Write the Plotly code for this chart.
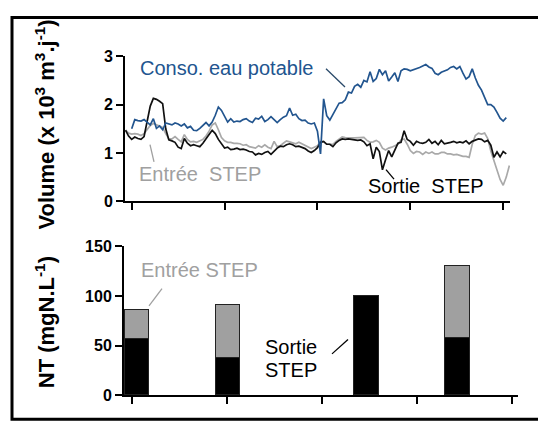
import plotly.graph_objects as go

# days of the campaign, ticks every 30 days
days = list(range(-2, 123))

conso = [None, None,
    1.50, 1.69, 1.67, 1.66, 1.69, 1.63, 1.58, 1.71, 1.51, 1.56,
    1.48, 1.62, 1.60, 1.58, 1.62, 1.60, 1.56, 1.60, 1.52, 1.55,
    1.47, 1.46, 1.51, 1.58, 1.63, 1.56, 1.64, 1.78, 1.95, 1.88,
    1.75, 1.64, 1.71, 1.64, 1.66, 1.65, 1.69, 1.71, 1.66, 1.63,
    1.72, 1.70, 1.76, 1.65, 1.69, 1.75, 1.69, 1.63, 1.69, 1.74,
    1.77, 1.93, 1.78, 1.80, 1.71, 1.67, 1.68, 1.62, 1.60, 1.62,
    1.45, 0.98, 2.12, 1.77, 1.68, 1.80, 1.91, 2.03, 2.04, 2.10,
    2.26, 2.24, 2.38, 2.42, 2.36, 2.50, 2.47, 2.68, 2.48, 2.54,
    2.73, 2.62, 2.70, 2.49, 2.57, 2.66, 2.48, 2.70, 2.74, 2.73,
    2.70, 2.72, 2.75, 2.77, 2.80, 2.83, 2.78, 2.75, 2.65, 2.62,
    2.67, 2.70, 2.72, 2.77, 2.79, 2.74, 2.79, 2.65, 2.53, 2.58,
    2.74, 2.55, 2.40, 2.30, 2.15, 2.00, 2.00, 1.95, 1.84, 1.72,
    1.66, 1.73, None]

sortie = [1.47, 1.35,
    1.28, 1.33, 1.30, 1.28, 1.34, 1.64, 1.97, 2.13, 2.11, 2.07,
    2.02, 1.50, 1.27, 1.25, 1.22, 1.12, 1.09, 1.30, 1.20, 1.15,
    1.17, 1.15, 1.13, 1.20, 1.30, 1.38, 1.47, 1.40, 1.28, 1.19,
    1.10, 1.12, 1.07, 1.08, 1.10, 1.07, 1.08, 1.06, 1.03, 1.02,
    0.96, 0.99, 0.97, 1.01, 1.03, 0.97, 1.04, 1.10, 1.14, 1.13,
    1.17, 1.19, 1.17, 1.13, 1.14, 1.12, 1.09, 1.04, 1.01, 1.05,
    1.11, 1.22, 1.24, 1.18, 1.18, 1.13, 1.21, 1.26, 1.29, 1.28,
    1.29, 1.28, 1.27, 1.26, 1.27, 1.23, 1.15, 1.19, 0.88, 1.12,
    1.03, 0.65, 0.86, 1.05, 0.92, 1.07, 1.20, 1.22, 1.46, 1.28,
    1.24, 1.16, 1.24, 1.21, 1.20, 1.22, 1.28, 1.20, 1.24, 1.17,
    1.26, 1.19, 1.20, 1.22, 1.24, 1.21, 1.23, 1.21, 1.25, 1.19,
    1.24, 1.27, 1.29, 1.28, 1.23, 1.26, 1.16, 0.91, 1.02, 0.92,
    1.03, 0.98, None]

entree = [1.47, 1.41,
    1.39, 1.40, 1.39, 1.36, 1.40, 1.48, 1.57, 1.61, 1.58, 1.55,
    1.53, 1.40, 1.29, 1.29, 1.34, 1.28, 1.23, 1.38, 1.28, 1.23,
    1.24, 1.22, 1.25, 1.28, 1.35, 1.45, 1.58, 1.62, 1.48, 1.32,
    1.25, 1.22, 1.22, 1.20, 1.20, 1.19, 1.16, 1.17, 1.13, 1.11,
    1.10, 1.15, 1.12, 1.17, 1.12, 1.09, 1.24, 1.13, 1.15, 1.20,
    1.25, 1.23, 1.21, 1.19, 1.22, 1.19, 1.15, 1.12, 1.09, 1.12,
    1.15, 1.24, 1.23, 1.18, 1.18, 1.18, 1.24, 1.28, 1.33, 1.32,
    1.31, 1.31, 1.31, 1.31, 1.32, 1.32, 1.26, 1.22, 1.23, 1.26,
    1.22, 1.10, 1.06, 1.10, 1.12, 1.15, 1.18, 1.27, 1.29, 1.18,
    1.05, 0.99, 1.03, 1.02, 0.97, 1.02, 0.99, 1.02, 0.98, 0.98,
    1.01, 1.01, 0.98, 0.98, 0.96, 0.97, 0.95, 0.93, 0.93, 0.91,
    1.18, 1.36, 1.41, 1.39, 1.41, 1.30, 1.04, 0.84, 0.66, 0.45,
    0.33, 0.50, 0.74]

# NT concentrations (bar charts)
nt_days = [1.7, 30.4, 74.1, 102.9]
nt_sortie = [56, 37, 100, 57]
nt_entree_extra = [29, 54, None, 72.5]

# the page body adds an 8px margin, so the figure is shifted by that much
OFF = 8
W, H = 546 - OFF, 432 - OFF


def px(x, y):
    return (x - OFF) / W, 1 - (y - OFF) / H


fig = go.Figure()

fig.add_trace(go.Scatter(x=days, y=entree, mode="lines", line=dict(color="#a9a9a9", width=1.7),
                         xaxis="x", yaxis="y", showlegend=False))
fig.add_trace(go.Scatter(x=days, y=sortie, mode="lines", line=dict(color="#111111", width=1.7),
                         xaxis="x", yaxis="y", showlegend=False))
fig.add_trace(go.Scatter(x=days, y=conso, mode="lines", line=dict(color="#22558f", width=1.7),
                         xaxis="x", yaxis="y", showlegend=False))

fig.add_trace(go.Bar(x=nt_days, y=nt_sortie, width=7.7, marker=dict(color="black", line=dict(color="#222", width=1.2)),
                     xaxis="x2", yaxis="y2", showlegend=False))
fig.add_trace(go.Bar(x=nt_days, y=nt_entree_extra, width=7.7, marker=dict(color="#a0a0a0", line=dict(color="#222", width=1.2)),
                     xaxis="x2", yaxis="y2", showlegend=False))

tickfont = dict(family="Liberation Sans, Arial", size=16, color="black", weight="bold")
ax_common = dict(showgrid=False, zeroline=False, showline=True, linecolor="black", linewidth=2,
                 ticks="outside", tickcolor="black", tickwidth=2)

fig.update_layout(
    width=W, height=H,
    margin=dict(l=0, r=0, t=0, b=0),
    paper_bgcolor="white", plot_bgcolor="white",
    barmode="stack", bargap=0,
    font=dict(family="Liberation Sans, Arial", color="black"),
    xaxis=dict(ax_common, domain=[px(125, 0)[0], px(510, 0)[0]], range=[-2.16, 122.2],
               tickvals=[0, 30, 60, 90, 120], showticklabels=False, ticklen=7, anchor="y"),
    yaxis=dict(ax_common, domain=[px(0, 201)[1], px(0, 50)[1]], range=[0, 3], tickvals=[0, 1, 2, 3],
               tickfont=tickfont, ticklen=7, anchor="x"),
    xaxis2=dict(ax_common, domain=[px(124, 0)[0], px(518, 0)[0]], range=[-2.43, 122.0],
                tickvals=[0, 30, 60, 90, 120], showticklabels=False, ticklen=7, anchor="y2"),
    yaxis2=dict(ax_common, domain=[px(0, 403)[1], px(0, 248)[1]], range=[0, 150], tickvals=[0, 50, 100, 150],
                tickfont=tickfont, ticklen=7, anchor="x2"),
)

annots = []


def note(text, x, y, color, size=20, angle=0, xanchor="center"):
    ax, ay = px(x, y)
    annots.append(dict(text=text, x=ax, y=ay, xref="paper", yref="paper", showarrow=False,
                       xanchor=xanchor, yanchor="middle", textangle=angle,
                       font=dict(family="Liberation Sans, Arial", size=size, color=color)))


note("<b>Volume (x 10<sup>3</sup> m<sup>3</sup>.j<sup>-1</sup>)</b>", 45, 121, "black", size=22, angle=-90)
note("<b>NT (mgN.L<sup>-1</sup>)</b>", 45, 327, "black", size=22, angle=-90)
note("Conso. eau potable", 138, 62, "#22558f", xanchor="left")
note("Entrée\u00a0\u00a0STEP", 137, 173, "#a0a0a0", xanchor="left")
note("Sortie\u00a0\u00a0STEP", 366, 185, "black", xanchor="left")
note("Entrée STEP", 139, 273, "#a0a0a0", xanchor="left")
note("Sortie", 263, 353, "black", xanchor="left")
note("STEP", 263, 377, "black", xanchor="left")
fig.update_layout(annotations=annots)


def seg(xa, ya, xb, yb, color, width=1.3):
    a = px(xa, ya)
    b = px(xb, yb)
    fig.add_shape(type="line", xref="paper", yref="paper", x0=a[0], y0=a[1], x1=b[0], y1=b[1],
                  line=dict(color=color, width=width))


seg(326, 63, 345, 82, "#2a4a6a")
seg(150, 142, 154, 160, "#a0a0a0")
seg(386, 168, 394, 178, "black")
seg(162, 292, 149, 310, "#a0a0a0")
seg(332, 360, 348, 345, "black")

# frame around the whole figure
f0 = px(12, 428)
f1 = px(541, 9.5)
fig.add_shape(type="rect", xref="paper", yref="paper", x0=f0[0], y0=f0[1], x1=f1[0], y1=f1[1],
              line=dict(color="black", width=3))

fig.write_html("out.html")
